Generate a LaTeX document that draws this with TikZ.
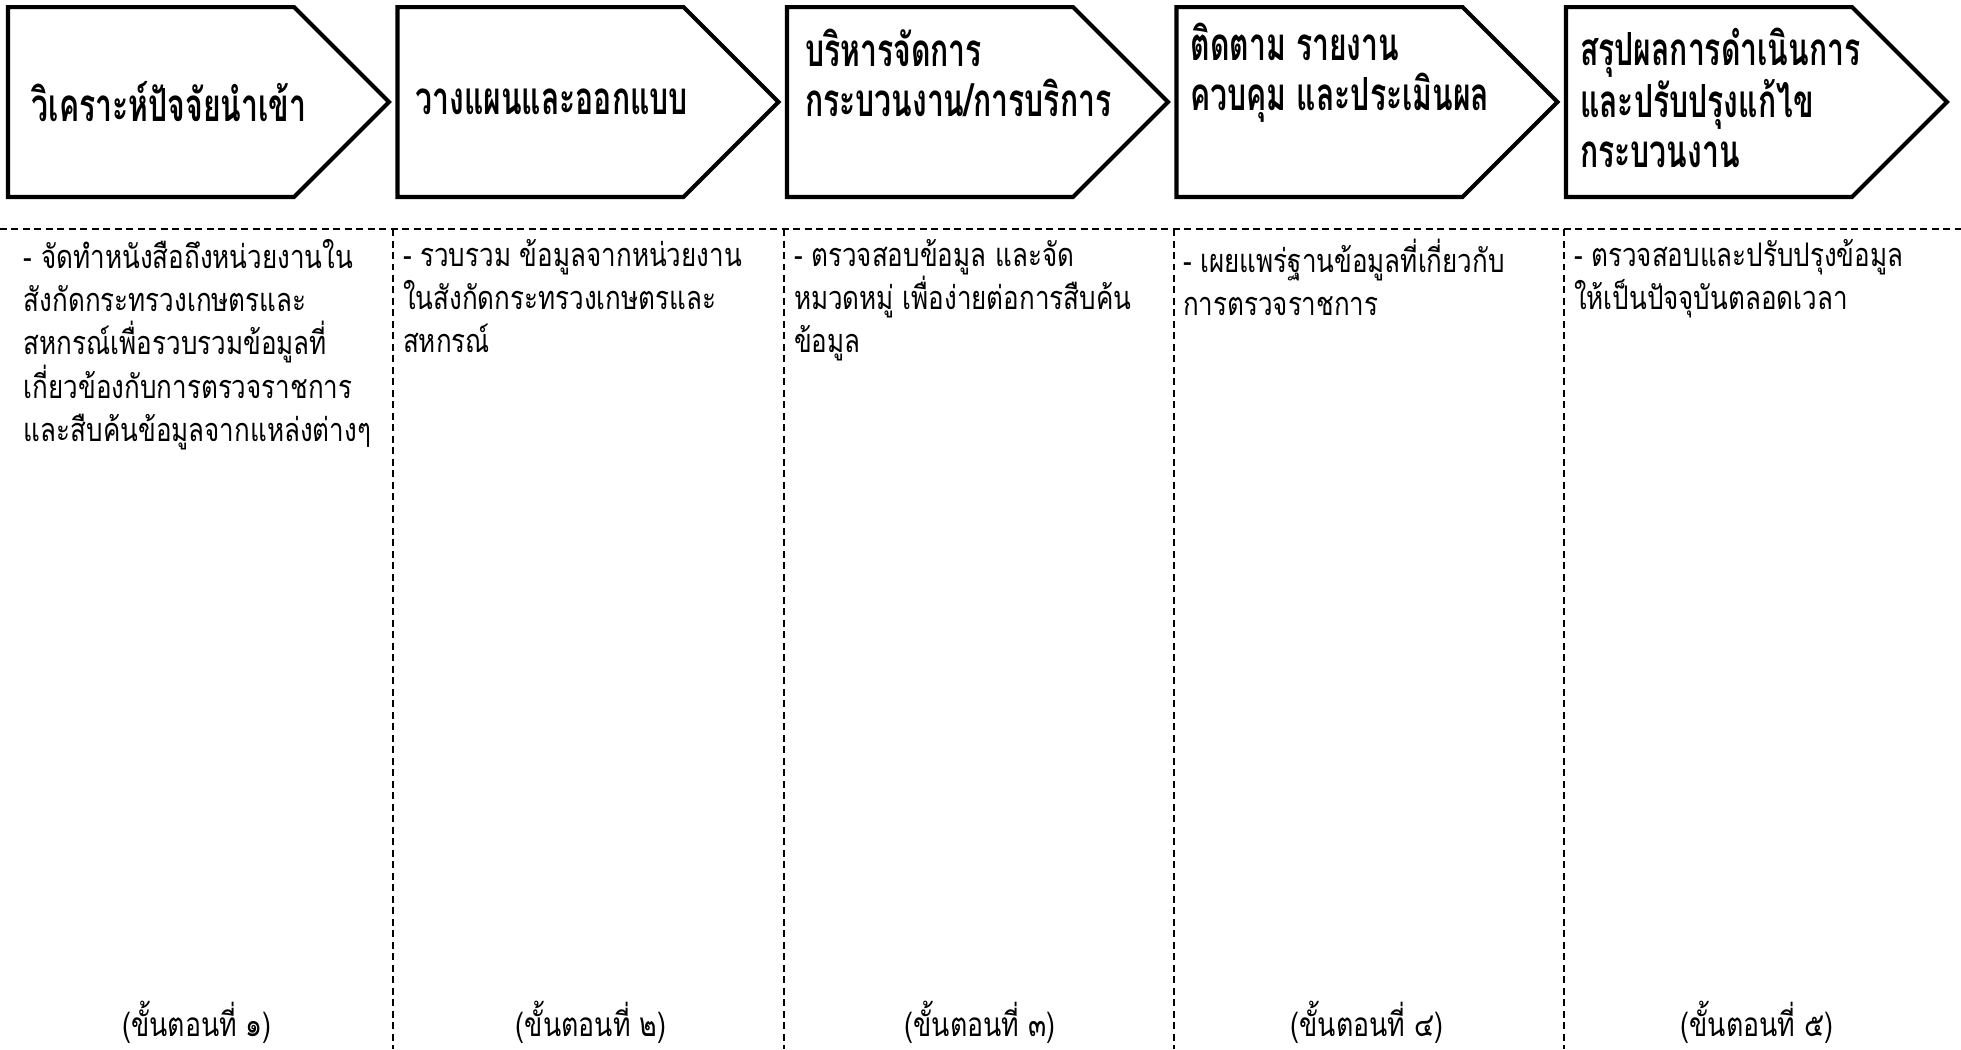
\documentclass[tikz,border=0pt]{standalone}
\usepackage{fontspec}
\usepackage{tikz}
\usetikzlibrary{shapes.symbols}
\newfontfamily\headfont[Script=Thai, FakeStretch=0.66]{Loma}
\newfontfamily\bodyfont[Script=Thai, FakeStretch=0.8]{Loma}

\begin{document}
\begin{tikzpicture}[
  x=0.02cm, y=-0.02cm,
  every node/.style={inner sep=0pt, outer sep=0pt, align=left},
  stepbox/.style={signal, signal to=east, signal pointer angle=90, draw=black,
    line width=2.3pt, minimum width=7.62cm, minimum height=3.8cm, anchor=west},
  headtext/.style={font=\headfont\bfseries\fontsize{26}{28.5}\selectfont, anchor=west},
  bodytext/.style={font=\bodyfont\fontsize{18.5}{24.7}\selectfont, anchor=north west},
  steplabel/.style={font=\bodyfont\fontsize{19}{21}\selectfont},
  divider/.style={line width=1.4pt, dash pattern=on 0.14cm off 0.09cm}
]
\useasboundingbox (0,0) rectangle (1961,1049);

%% Row 0: the five step arrows
\node[stepbox] (s1) at (8,102) {};
\node[stepbox] (s2) at (397.5,102) {};
\node[stepbox] (s3) at (787,102) {};
\node[stepbox] (s4) at (1176.5,102) {};
\node[stepbox] (s5) at (1566,102) {};

\node[headtext] (h1) at ([xshift=0.48cm]s1.west) {วิเคราะห์ปัจจัยนำเข้า};
\node[headtext] (h2) at ([xshift=0.36cm]s2.west) {วางแผนและออกแบบ};
\node[headtext] (h3) at ([xshift=0.36cm, yshift=0.58cm]s3.west) {บริหารจัดการ\\กระบวนงาน/การบริการ};
\node[headtext] (h4) at ([xshift=0.28cm, yshift=0.58cm]s4.west) {ติดตาม รายงาน\\ควบคุม และประเมินผล};
\node[headtext] (h5) at ([xshift=0.28cm, yshift=0.08cm]s5.west) {สรุปผลการดำเนินการ\\และปรับปรุงแก้ไข\\กระบวนงาน};

%% Row 1: dotted grid under the arrows
\draw[divider] (0,229) -- (1961,229);
\foreach \xd in {393,784,1174,1564}
  \draw[divider] (\xd,229) -- (\xd,1049);

%% Row 2: what each step does
\node[bodytext] (d1) at (24,239) {- จัดทำหนังสือถึงหน่วยงานใน\\สังกัดกระทรวงเกษตรและ\\สหกรณ์เพื่อรวบรวมข้อมูลที่\\เกี่ยวข้องกับการตรวจราชการ\\และสืบค้นข้อมูลจากแหล่งต่างๆ};
\node[bodytext] (d2) at (403,239) {- รวบรวม ข้อมูลจากหน่วยงาน\\ในสังกัดกระทรวงเกษตรและ\\สหกรณ์};
\node[bodytext] (d3) at (794,239) {- ตรวจสอบข้อมูล และจัด\\หมวดหมู่ เพื่อง่ายต่อการสืบค้น\\ข้อมูล};
\node[bodytext] (d4) at (1183,239) {- เผยแพร่ฐานข้อมูลที่เกี่ยวกับ\\การตรวจราชการ};
\node[bodytext] (d5) at (1574,239) {- ตรวจสอบและปรับปรุงข้อมูล\\ให้เป็นปัจจุบันตลอดเวลา};

%% Row 3: step numbers
\node[steplabel] (n1) at (197,1022) {(ขั้นตอนที่ ๑)};
\node[steplabel] (n2) at (591,1022) {(ขั้นตอนที่ ๒)};
\node[steplabel] (n3) at (980,1022) {(ขั้นตอนที่ ๓)};
\node[steplabel] (n4) at (1367,1022) {(ขั้นตอนที่ ๔)};
\node[steplabel] (n5) at (1757,1022) {(ขั้นตอนที่ ๕)};

\end{tikzpicture}
\end{document}
